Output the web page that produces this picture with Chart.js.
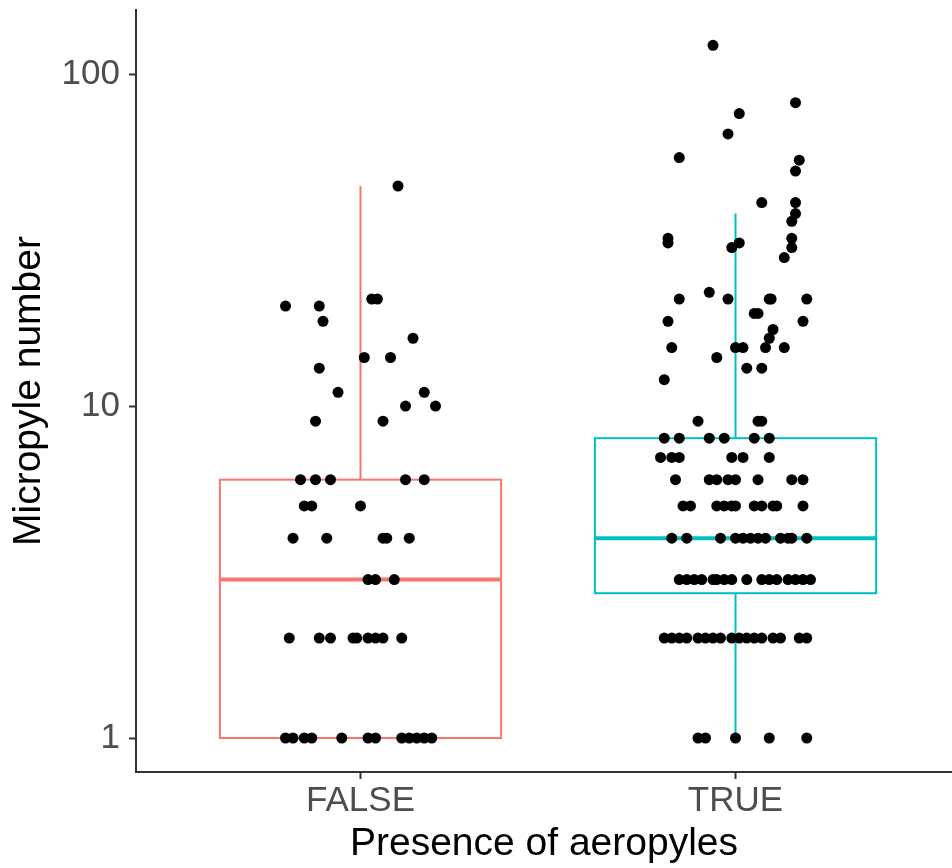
<!DOCTYPE html>
<html>
<head>
<meta charset="utf-8">
<script src="https://cdn.jsdelivr.net/npm/chart.js@4.4.1/dist/chart.umd.min.js"></script>
<style>
  html, body { margin: 0; padding: 0; background: #fff; }
  #wrap { width: 952px; height: 868px; }
</style>
</head>
<body>
<div id="wrap"><canvas id="chart" width="952" height="868"></canvas></div>
<script>
const categories = ['FALSE', 'TRUE'];
const yTicks = [1, 10, 100];

// box stats
const boxLow = [1, 1];
const boxQ1 = [1, 2.73];
const boxMedian = [3, 4];
const boxQ3 = [6, 8];
const boxHigh = [46, 38];
const boxColors = ['#F8766D', '#00BFC4'];

// jittered points: value + horizontal offset from the category centre
const falseValues = [46, 21, 21, 20, 20, 18, 16, 14, 14, 13, 11, 11, 10, 10, 9, 9,
  6, 6, 6, 6, 6, 5, 5, 5, 4, 4, 4, 4, 4, 3, 3, 3,
  2, 2, 2, 2, 2, 2, 2, 2, 2,
  1, 1, 1, 1, 1, 1, 1, 1, 1, 1, 1, 1];
const falseJitter = [0.10, 0.03, 0.045, -0.20, -0.11, -0.10, 0.14, 0.01, 0.08, -0.11, -0.06, 0.17, 0.12, 0.20, -0.12, 0.06,
  -0.16, -0.12, -0.08, 0.12, 0.17, -0.15, -0.13, 0.00, -0.18, -0.09, 0.06, 0.07, 0.13, 0.02, 0.04, 0.09,
  -0.19, -0.11, -0.08, -0.02, -0.01, 0.02, 0.04, 0.06, 0.11,
  -0.20, -0.18, -0.15, -0.13, -0.05, 0.02, 0.04, 0.11, 0.13, 0.15, 0.17, 0.19];

const trueValues = [122, 82, 76, 66, 56, 55, 51, 41, 41, 38, 36, 32, 32, 31, 31, 30, 30, 28, 22,
  21, 21, 21, 21, 21, 19, 19, 18, 18, 17, 16, 15, 15, 15, 15, 15, 14, 13, 13, 12,
  9, 9, 9, 8, 8, 8, 8, 8, 8, 7, 7, 7, 7, 7, 7,
  6, 6, 6, 6, 6, 6, 6, 6,
  5, 5, 5, 5, 5, 5, 5, 5, 5, 5, 5,
  4, 4, 4, 4, 4, 4, 4, 4, 4, 4, 4, 4,
  3, 3, 3, 3, 3, 3, 3, 3, 3, 3, 3, 3, 3, 3, 3, 3,
  2, 2, 2, 2, 2, 2, 2, 2, 2, 2, 2, 2, 2, 2, 2, 2, 2,
  1, 1, 1, 1, 1];
const trueJitter = [-0.06, 0.16, 0.01, -0.02, -0.15, 0.17, 0.16, 0.07, 0.16, 0.16, 0.15, -0.18, 0.15, -0.18, 0.01, 0.15, -0.01, 0.13, -0.07,
  -0.15, -0.02, 0.09, 0.095, 0.19, 0.05, 0.06, -0.18, 0.18, 0.10, 0.09, -0.17, 0.00, 0.02, 0.08, 0.13, -0.05, 0.03, 0.07, -0.19,
  -0.10, 0.06, 0.07, -0.19, -0.15, -0.07, -0.03, 0.05, 0.09, -0.20, -0.17, -0.15, -0.01, 0.02, 0.09,
  -0.16, -0.07, -0.05, -0.02, 0.00, 0.06, 0.15, 0.18,
  -0.14, -0.12, -0.05, -0.03, -0.01, 0.00, 0.05, 0.07, 0.10, 0.11, 0.18,
  -0.17, -0.13, -0.04, 0.00, 0.02, 0.04, 0.06, 0.08, 0.12, 0.14, 0.15, 0.19,
  -0.15, -0.13, -0.11, -0.09, -0.06, -0.05, -0.03, -0.01, 0.03, 0.07, 0.09, 0.11, 0.14, 0.16, 0.18, 0.20,
  -0.19, -0.17, -0.15, -0.13, -0.10, -0.08, -0.06, -0.04, -0.01, 0.01, 0.03, 0.05, 0.07, 0.10, 0.12, 0.17, 0.19,
  -0.10, -0.08, 0.00, 0.09, 0.19];

const FONT = '"Liberation Sans", Arial, Helvetica, sans-serif';

const whiteBg = {
  id: 'whiteBg',
  beforeDraw(chart) {
    const ctx = chart.ctx;
    ctx.save();
    ctx.fillStyle = '#fff';
    ctx.fillRect(0, 0, chart.width, chart.height);
    ctx.restore();
  }
};

// boxes + whiskers drawn under the points, positions from the chart scales
const boxes = {
  id: 'boxes',
  beforeDatasetsDraw(chart) {
    const { ctx, scales: { x, y } } = chart;
    categories.forEach((c, i) => {
      const pos = i + 1;
      const left = x.getPixelForValue(pos - 0.375);
      const right = x.getPixelForValue(pos + 0.375);
      const mid = x.getPixelForValue(pos);
      const yLow = y.getPixelForValue(boxLow[i]);
      const yQ1 = y.getPixelForValue(boxQ1[i]);
      const yMed = y.getPixelForValue(boxMedian[i]);
      const yQ3 = y.getPixelForValue(boxQ3[i]);
      const yHigh = y.getPixelForValue(boxHigh[i]);
      ctx.save();
      ctx.strokeStyle = boxColors[i];
      ctx.lineWidth = 2;
      ctx.beginPath();
      ctx.moveTo(mid, yQ3); ctx.lineTo(mid, yHigh);
      ctx.moveTo(mid, yQ1); ctx.lineTo(mid, yLow);
      ctx.stroke();
      ctx.strokeRect(left, yQ3, right - left, yQ1 - yQ3);
      ctx.lineWidth = 4;
      ctx.beginPath();
      ctx.moveTo(left, yMed); ctx.lineTo(right, yMed);
      ctx.stroke();
      ctx.restore();
    });
  }
};

const toPoints = (vals, jit, pos) => vals.map((v, k) => ({ x: pos + jit[k], y: v }));

const chart = new Chart(document.getElementById('chart'), {
  type: 'scatter',
  data: {
    datasets: [
      { label: 'FALSE', data: toPoints(falseValues, falseJitter, 1) },
      { label: 'TRUE', data: toPoints(trueValues, trueJitter, 2) }
    ]
  },
  options: {
    responsive: false,
    animation: false,
    layout: { padding: { top: 10, right: 0, bottom: 0, left: 0 } },
    elements: { point: { radius: 5.5, backgroundColor: '#000', borderWidth: 0, hoverRadius: 5.5 } },
    plugins: { legend: { display: false }, tooltip: { enabled: false } },
    scales: {
      x: {
        type: 'linear',
        min: 0.4013,
        max: 2.5773,
        afterBuildTicks: s => { s.ticks = categories.map((c, i) => ({ value: i + 1 })); },
        afterFit: s => { s.height = 96; s.paddingLeft = 0; s.paddingRight = 0; },
        ticks: {
          callback: v => categories[v - 1] ?? '',
          color: '#4D4D4D',
          font: { family: FONT, size: 35 },
          padding: 1,
          maxRotation: 0,
          autoSkip: false
        },
        grid: { drawOnChartArea: false, tickLength: 7, tickColor: '#333', tickWidth: 2 },
        border: { color: '#333', width: 2 },
        title: {
          display: true,
          text: 'Presence of aeropyles',
          color: '#000',
          font: { family: FONT, size: 39 },
          padding: { top: 0, bottom: 0 }
        }
      },
      y: {
        type: 'logarithmic',
        min: 0.79,
        max: 155.9,
        afterBuildTicks: s => { s.ticks = yTicks.map(v => ({ value: v })); },
        afterFit: s => { s.width = 136; s.paddingTop = 0; s.paddingBottom = 0; },
        ticks: {
          callback: v => String(v),
          color: '#4D4D4D',
          font: { family: FONT, size: 35 },
          padding: 9,
          autoSkip: false
        },
        grid: { drawOnChartArea: false, tickLength: 7, tickColor: '#333', tickWidth: 2 },
        border: { color: '#333', width: 2 },
        title: {
          display: true,
          text: 'Micropyle number',
          color: '#000',
          font: { family: FONT, size: 39 },
          padding: { top: 6, bottom: 0 }
        }
      }
    }
  },
  plugins: [whiteBg, boxes]
});

// the point radius otherwise pads the plot area on the right
chart.data.datasets.forEach((d, i) => {
  chart.getDatasetMeta(i).controller.getMaxOverflow = () => false;
});
chart.update();
</script>
</body>
</html>
